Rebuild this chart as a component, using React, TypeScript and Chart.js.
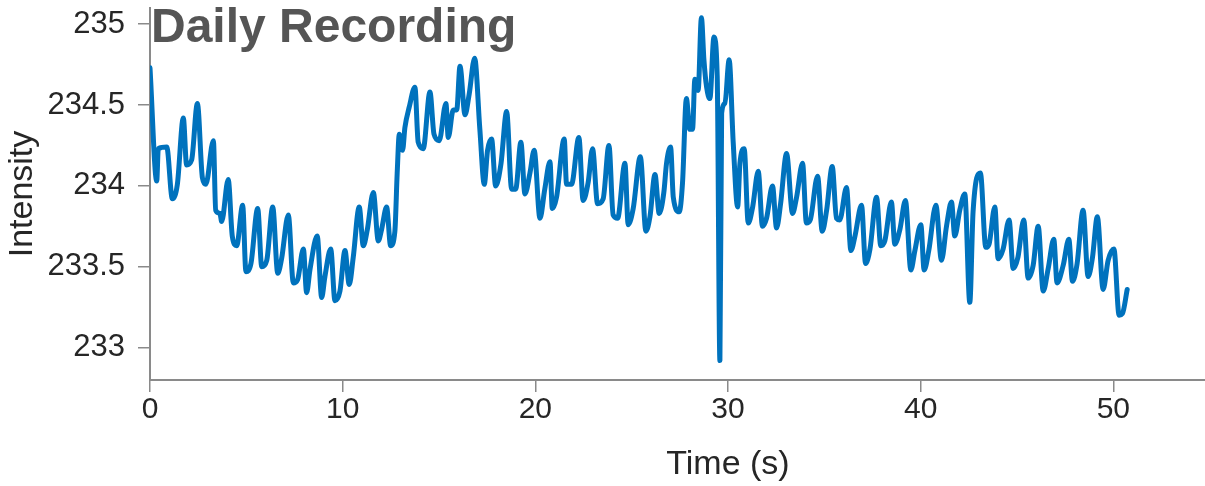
import React, { useEffect, useRef } from "react";
import { Chart, registerables } from "chart.js";

Chart.register(...registerables);

const timeS = [
  0.0, 0.35, 0.43, 0.87, 1.16, 1.42, 1.73, 1.9, 2.16, 2.46, 2.72, 2.9, 3.29, 3.41, 3.63, 3.72, 4.06, 4.27, 4.5, 4.81,
  4.98, 5.24, 5.59, 5.8, 6.06, 6.37, 6.63, 6.83, 7.18, 7.44, 7.66, 7.96, 8.13, 8.3, 8.68, 8.91, 9.08, 9.38, 9.6, 9.86,
  10.12, 10.34, 10.55, 10.86, 11.07, 11.28, 11.59, 11.85, 12.02, 12.28, 12.49, 12.71, 12.83, 12.94, 13.11, 13.23, 13.46, 13.75, 13.92, 14.18,
  14.53, 14.74, 15.01, 15.36, 15.48, 15.74, 15.92, 16.09, 16.35, 16.57, 16.85, 17.12, 17.35, 17.52, 17.73, 17.94, 18.22, 18.51, 18.77, 18.98,
  19.25, 19.46, 19.72, 19.94, 20.24, 20.49, 20.76, 20.88, 21.1, 21.5, 21.62, 21.88, 22.26, 22.48, 22.74, 22.97, 23.23, 23.52, 23.82, 24.04,
  24.27, 24.65, 24.82, 25.08, 25.45, 25.74, 25.95, 26.21, 26.43, 26.67, 26.81, 27.02, 27.16, 27.47, 27.64, 27.84, 28.02, 28.16, 28.28, 28.45,
  28.62, 28.75, 28.89, 29.06, 29.27, 29.44, 29.58, 29.67, 29.84, 30.06, 30.27, 30.5, 30.62, 30.84, 31.05, 31.28, 31.57, 31.79, 32.0, 32.31,
  32.52, 32.73, 33.04, 33.35, 33.56, 33.87, 34.07, 34.27, 34.65, 34.89, 35.12, 35.41, 35.63, 35.8, 36.15, 36.38, 36.59, 36.93, 37.14, 37.37,
  37.71, 37.93, 38.14, 38.48, 38.66, 38.92, 39.21, 39.49, 39.7, 40.01, 40.18, 40.42, 40.79, 41.08, 41.34, 41.6, 41.77, 42.03, 42.29, 42.55,
  42.72, 43.1, 43.38, 43.55, 43.85, 44.02, 44.28, 44.59, 44.8, 45.05, 45.35, 45.58, 45.84, 46.1, 46.36, 46.62, 46.91, 47.08, 47.4, 47.69,
  47.88, 48.12, 48.43, 48.69, 48.92, 49.17, 49.47, 49.73, 50.03, 50.3, 50.47, 50.72,
];

const intensity = [
  234.73, 234.03, 234.23, 234.24, 233.92, 234.01, 234.42, 234.13, 234.16, 234.51, 234.05, 234.01, 234.28, 233.85, 233.83, 233.78, 234.04, 233.69, 233.63, 233.88,
  233.47, 233.52, 233.86, 233.5, 233.54, 233.87, 233.46, 233.55, 233.82, 233.4, 233.42, 233.61, 233.34, 233.48, 233.69, 233.31, 233.44, 233.61, 233.29, 233.35,
  233.6, 233.39, 233.56, 233.87, 233.63, 233.73, 233.96, 233.66, 233.73, 233.87, 233.63, 233.72, 234.08, 234.32, 234.22, 234.36, 234.49, 234.61, 234.27, 234.23,
  234.58, 234.32, 234.28, 234.51, 234.3, 234.47, 234.47, 234.74, 234.44, 234.57, 234.79, 234.35, 234.01, 234.22, 234.29, 234.0, 234.14, 234.46, 233.98, 233.98,
  234.27, 233.95, 234.08, 234.22, 233.8, 233.98, 234.15, 233.86, 233.93, 234.29, 234.01, 234.01, 234.3, 233.91, 234.02, 234.23, 233.89, 233.92, 234.25, 233.82,
  233.8, 234.14, 233.76, 233.86, 234.18, 233.72, 233.81, 234.07, 233.83, 233.96, 234.14, 234.24, 233.93, 233.84, 234.02, 234.54, 234.35, 234.35, 234.66, 234.59,
  235.04, 234.78, 234.61, 234.54, 234.92, 234.68, 232.92, 234.45, 234.51, 234.78, 234.27, 233.87, 234.14, 234.23, 233.77, 233.87, 234.09, 233.75, 233.8, 234.0,
  233.74, 233.89, 234.2, 233.83, 233.93, 234.14, 233.77, 233.79, 234.06, 233.72, 233.85, 234.12, 233.8, 233.79, 233.99, 233.6, 233.69, 233.88, 233.52, 233.61,
  233.93, 233.63, 233.66, 233.9, 233.64, 233.73, 233.91, 233.48, 233.6, 233.76, 233.48, 233.6, 233.88, 233.54, 233.75, 233.9, 233.69, 233.85, 233.95, 233.28,
  233.84, 234.08, 233.62, 233.64, 233.87, 233.55, 233.61, 233.79, 233.49, 233.56, 233.79, 233.43, 233.51, 233.75, 233.35, 233.49, 233.67, 233.4, 233.51, 233.67,
  233.41, 233.52, 233.85, 233.44, 233.56, 233.81, 233.36, 233.54, 233.61, 233.2, 233.21, 233.36,
];

const xTicks = [0, 10, 20, 30, 40, 50];
const yTicks = [233, 233.5, 234, 234.5, 235];
const yTickLabels = ["233", "233.5", "234", "234.5", "235"];
const chartTitle = "Daily Recording";
const xTitle = "Time (s)";
const yTitle = "Intensity";

const FONT = "'Liberation Sans', Arial, Helvetica, sans-serif";
const AXIS_GRAY = "#8a8a8a";
const TEXT = "#262626";

export default function App() {
  const ref = useRef<HTMLCanvasElement>(null);

  useEffect(() => {
    document.body.style.margin = "0";
    const chart = new Chart(ref.current as HTMLCanvasElement, {
      type: "line",
      data: {
        datasets: [
          {
            data: timeS.map((x, i) => ({ x, y: intensity[i] })),
            borderColor: "#0072BD",
            borderWidth: 5,
            pointRadius: 0,
            cubicInterpolationMode: "monotone",
            fill: false,
            borderJoinStyle: "round",
            borderCapStyle: "round",
          },
        ],
      },
      options: {
        responsive: false,
        animation: false,
        devicePixelRatio: 1,
        layout: { padding: { top: 8, left: 0, right: 0, bottom: 0 } },
        plugins: { legend: { display: false }, tooltip: { enabled: false }, title: { display: false } },
        scales: {
          x: {
            type: "linear",
            min: 0,
            max: 60,
            afterBuildTicks: (s: any) => {
              s.ticks = xTicks.map((v) => ({ value: v }));
            },
            afterFit: (s: any) => {
              s.height = 106;
              s.paddingLeft = 0;
              s.paddingRight = 0;
            },
            grid: { drawOnChartArea: false, drawTicks: true, tickLength: 12, color: AXIS_GRAY, lineWidth: 1.5 },
            border: { display: true, color: AXIS_GRAY, width: 2 },
            ticks: { font: { family: FONT, size: 30 }, color: TEXT, padding: 0, maxRotation: 0 },
            title: {
              display: true,
              text: xTitle,
              font: { family: FONT, size: 34 },
              color: TEXT,
              padding: { top: 0, bottom: 1 },
            },
          },
          y: {
            type: "linear",
            min: 232.8,
            max: 235.1,
            afterBuildTicks: (s: any) => {
              s.ticks = yTicks.map((v) => ({ value: v }));
            },
            afterFit: (s: any) => {
              s.width = 150;
              s.paddingTop = 0;
              s.paddingBottom = 0;
            },
            grid: { drawOnChartArea: false, drawTicks: true, tickLength: 12, color: AXIS_GRAY, lineWidth: 1.5 },
            border: { display: true, color: AXIS_GRAY, width: 2 },
            ticks: {
              font: { family: FONT, size: 31 },
              color: TEXT,
              padding: 13,
              callback: (v: any) => {
                const i = yTicks.indexOf(Number(v));
                return i >= 0 ? yTickLabels[i] : "";
              },
            },
            title: {
              display: true,
              text: yTitle,
              font: { family: FONT, size: 34 },
              color: TEXT,
              padding: { top: 2, bottom: 0 },
            },
          },
        },
      },
    });
    return () => chart.destroy();
  }, []);

  return (
    <div
      style={{
        position: "fixed",
        left: 0,
        top: 0,
        width: 1205,
        height: 486,
        overflow: "hidden",
        background: "#ffffff",
      }}
    >
      <canvas ref={ref} width={1306} height={486} style={{ display: "block", width: 1306, height: 486 }} />
      <div
        style={{
          position: "absolute",
          left: 151,
          top: 2,
          fontFamily: FONT,
          fontWeight: "bold",
          fontSize: 48,
          lineHeight: "48px",
          color: "#555555",
          whiteSpace: "nowrap",
        }}
      >
        {chartTitle}
      </div>
    </div>
  );
}
